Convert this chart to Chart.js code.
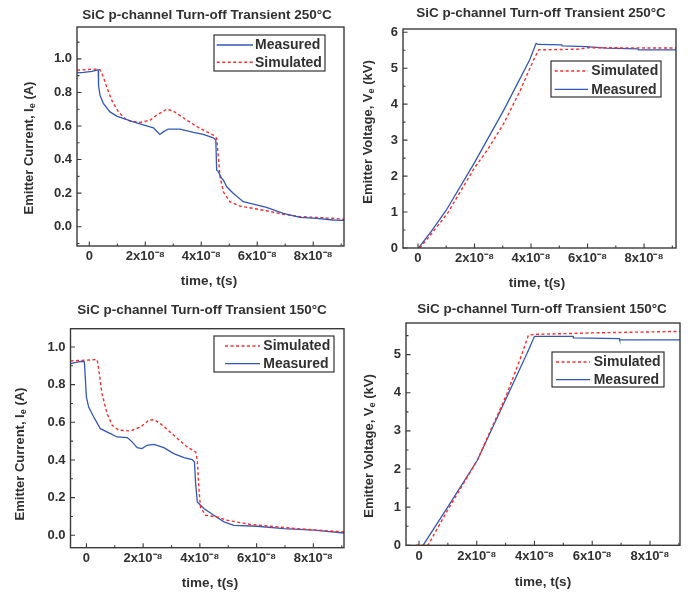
<!DOCTYPE html>
<html><head><meta charset="utf-8">
<script src="https://cdn.jsdelivr.net/npm/chart.js@4.4.1/dist/chart.umd.min.js"></script>
<style>
html,body{margin:0;padding:0;background:#fff;width:696px;height:594px;overflow:hidden}
.p{position:absolute;width:348px;height:297px}
</style></head><body>
<div class="p" style="left:0;top:0"><canvas id="c1"></canvas></div>
<div class="p" style="left:348px;top:0"><canvas id="c2"></canvas></div>
<div class="p" style="left:0;top:297px"><canvas id="c3"></canvas></div>
<div class="p" style="left:348px;top:297px"><canvas id="c4"></canvas></div>
<script>
// ---------- text ----------
const title250 = 'SiC p-channel Turn-off Transient 250°C';
const title150 = 'SiC p-channel Turn-off Transient 150°C';
const xAxisTitle = 'time, t(s)';
const yTitleCurrent = ['Emitter Current, I', 'e', ' (A)'];
const yTitleVoltage = ['Emitter Voltage, V', 'e', ' (kV)'];
const labelMeasured = 'Measured';
const labelSimulated = 'Simulated';

// ---------- ticks ----------
const xTicks = [0, 1e-8, 2e-8, 3e-8, 4e-8, 5e-8, 6e-8, 7e-8, 8e-8, 9e-8];
const xTickLabels = ['0', '', '2x10⁻⁸', '', '4x10⁻⁸', '', '6x10⁻⁸', '', '8x10⁻⁸', ''];
const curTicks250 = [-0.1, 0, 0.1, 0.2, 0.3, 0.4, 0.5, 0.6, 0.7, 0.8, 0.9, 1.0, 1.1];
const curLabels250 = ['', '0.0', '', '0.2', '', '0.4', '', '0.6', '', '0.8', '', '1.0', ''];
const curTicks150 = [0, 0.1, 0.2, 0.3, 0.4, 0.5, 0.6, 0.7, 0.8, 0.9, 1.0];
const curLabels150 = ['0.0', '', '0.2', '', '0.4', '', '0.6', '', '0.8', '', '1.0'];
const voltTicks250 = [0, 0.5, 1, 1.5, 2, 2.5, 3, 3.5, 4, 4.5, 5, 5.5, 6];
const voltLabels250 = ['0', '', '1', '', '2', '', '3', '', '4', '', '5', '', '6'];
const voltTicks150 = [0, 0.5, 1, 1.5, 2, 2.5, 3, 3.5, 4, 4.5, 5, 5.5];
const voltLabels150 = ['0', '', '1', '', '2', '', '3', '', '4', '', '5', ''];

// ---------- data (time in s) ----------
// 250°C current
const t250_I_meas = [-0.44e-8,-0.2e-8,0.1e-8,0.3e-8,0.32e-8,0.33e-8,0.38e-8,0.5e-8,0.74e-8,0.98e-8,1.57e-8,2.05e-8,2.29e-8,2.4e-8,2.52e-8,2.64e-8,2.82e-8,3.24e-8,3.72e-8,4.07e-8,4.43e-8,4.52e-8,4.55e-8,4.6e-8,4.67e-8,4.72e-8,4.79e-8,4.91e-8,5.14e-8,5.5e-8,5.86e-8,6.33e-8,6.93e-8,7.53e-8,8.12e-8,8.71e-8,9.1e-8];
const I250_meas = [0.917,0.92,0.925,0.935,0.935,0.843,0.784,0.735,0.684,0.659,0.625,0.601,0.589,0.57,0.55,0.565,0.582,0.582,0.562,0.55,0.53,0.516,0.338,0.33,0.308,0.29,0.278,0.238,0.199,0.149,0.135,0.115,0.08,0.056,0.05,0.04,0.038];
const t250_I_sim = [-0.44e-8,0.26e-8,0.38e-8,0.5e-8,0.62e-8,0.8e-8,1.04e-8,1.33e-8,1.81e-8,2.17e-8,2.41e-8,2.76e-8,3.0e-8,3.48e-8,3.95e-8,4.43e-8,4.55e-8,4.61e-8,4.67e-8,4.79e-8,5.02e-8,5.38e-8,6.33e-8,6.93e-8,7.53e-8,8.71e-8,9.1e-8];
const I250_sim = [0.933,0.939,0.935,0.893,0.833,0.754,0.684,0.635,0.621,0.635,0.665,0.70,0.689,0.635,0.586,0.546,0.526,0.417,0.298,0.208,0.149,0.123,0.095,0.074,0.06,0.05,0.044];
// 250°C voltage (kV)
const t250_V_meas = [0.02e-8,0.47e-8,1.0e-8,1.99e-8,3.04e-8,3.95e-8,4.18e-8,4.25e-8,5.09e-8,5.1e-8,5.96e-8,6.67e-8,7.78e-8,7.8e-8,9.13e-8];
const V250_meas = [0,0.46,1.05,2.36,3.84,5.23,5.69,5.66,5.65,5.62,5.6,5.56,5.54,5.51,5.51];
const t250_V_sim = [0.06e-8,0.5e-8,1.05e-8,1.99e-8,2.46e-8,3.04e-8,3.63e-8,4.09e-8,4.27e-8,5.73e-8,5.96e-8,9.13e-8];
const V250_sim = [0,0.42,0.97,2.22,2.73,3.47,4.4,5.23,5.51,5.53,5.57,5.56];
// 150°C current
const t150_I_meas = [-0.56e-8,-0.33e-8,-0.15e-8,-0.07e-8,-0.04e-8,0,0.08e-8,0.26e-8,0.49e-8,0.85e-8,1.08e-8,1.44e-8,1.61e-8,1.79e-8,1.96e-8,2.14e-8,2.38e-8,2.73e-8,3.08e-8,3.44e-8,3.73e-8,3.81e-8,3.85e-8,3.91e-8,4.14e-8,4.49e-8,4.85e-8,5.2e-8,6.02e-8,6.96e-8,8.02e-8,9.08e-8];
const I150_meas = [0.912,0.92,0.924,0.92,0.84,0.735,0.681,0.628,0.566,0.54,0.522,0.519,0.496,0.465,0.46,0.478,0.483,0.465,0.434,0.412,0.402,0.389,0.274,0.177,0.142,0.106,0.071,0.053,0.048,0.035,0.027,0.012];
const t150_I_sim = [-0.56e-8,0.38e-8,0.44e-8,0.55e-8,0.73e-8,0.91e-8,1.14e-8,1.55e-8,1.91e-8,2.2e-8,2.38e-8,2.61e-8,3.08e-8,3.55e-8,3.85e-8,3.91e-8,3.96e-8,4.02e-8,4.2e-8,4.61e-8,4.96e-8,5.79e-8,6.96e-8,8.14e-8,9.08e-8];
const I150_sim = [0.926,0.933,0.876,0.752,0.646,0.584,0.558,0.554,0.575,0.611,0.614,0.593,0.531,0.469,0.442,0.398,0.257,0.15,0.106,0.097,0.08,0.057,0.041,0.027,0.018];
// 150°C voltage (kV)
const t150_V_meas = [0.14e-8,1.0e-8,2.02e-8,3.05e-8,3.74e-8,4.0e-8,5.34e-8,5.35e-8,6.94e-8,6.95e-8,9.04e-8];
const V150_meas = [0,1.01,2.23,3.9,5.03,5.48,5.48,5.44,5.42,5.39,5.39];
const t150_V_sim = [-0.1e-8,0.31e-8,0.99e-8,2.02e-8,3.05e-8,3.51e-8,3.79e-8,3.97e-8,6.0e-8,9.04e-8];
const V150_sim = [0,0,0.92,2.23,3.98,4.9,5.51,5.53,5.57,5.61];

// ---------- styling ----------
const BLUE = '#3158b8';
const RED = '#ff2b2b';
const TXT = '#303030';
const FONT = '"Liberation Sans", Arial, Helvetica, sans-serif';

function pts(xs, ys) { return xs.map((x, i) => ({ x: x, y: ys[i] })); }
function meas(xs, ys) { return { label: labelMeasured, data: pts(xs, ys), borderColor: BLUE, borderWidth: 1.3, pointRadius: 0, tension: 0, fill: false, kind: 'm' }; }
function sim(xs, ys) { return { label: labelSimulated, data: pts(xs, ys), borderColor: RED, borderWidth: 1.4, borderDash: [3, 2.5], pointRadius: 0, tension: 0, fill: false, kind: 's' }; }

const panels = {
  c1: { title: title250, yTitle: yTitleCurrent, xr: [-0.44e-8, 9.1e-8], yr: [-0.115, 1.19], yTicks: curTicks250, yLabels: curLabels250,
        pad: { left: 0, top: 27, right: 4, bottom: 0 }, yW: 77, xH: 51,
        tPos: [207, 15], xtPos: [209, 281], ytPos: [29, 148],
        legend: { box: [214, 35, 325, 71], rows: [45, 62.3], line: [216.7, 253], text: 255 },
        ds: [meas(t250_I_meas, I250_meas), sim(t250_I_sim, I250_sim)] },
  c2: { title: title250, yTitle: yTitleVoltage, xr: [-0.53e-8, 9.13e-8], yr: [0, 6.09], yTicks: voltTicks250, yLabels: voltLabels250,
        pad: { left: 0, top: 29, right: 20, bottom: 0 }, yW: 55, xH: 49,
        tPos: [193, 13], xtPos: [189, 283], ytPos: [20, 132],
        legend: { box: [203, 61, 313, 97], rows: [71, 89.3], line: [206.7, 240], text: 243.3 },
        ds: [sim(t250_V_sim, V250_sim), meas(t250_V_meas, V250_meas)] },
  c3: { title: title150, yTitle: yTitleCurrent, xr: [-0.56e-8, 9.08e-8], yr: [-0.066, 1.097], yTicks: curTicks150, yLabels: curLabels150,
        pad: { left: 0, top: 31.7, right: 4, bottom: 0 }, yW: 70.5, xH: 46.3,
        tPos: [202, 13], xtPos: [210, 286], ytPos: [20, 157],
        legend: { box: [214, 39, 334, 75], rows: [49, 66.7], line: [225, 260], text: 263.3 },
        ds: [sim(t150_I_sim, I150_sim), meas(t150_I_meas, I150_meas)] },
  c4: { title: title150, yTitle: yTitleVoltage, xr: [-0.45e-8, 9.04e-8], yr: [0, 5.83], yTicks: voltTicks150, yLabels: voltLabels150,
        pad: { left: 0, top: 26, right: 16, bottom: 0 }, yW: 58, xH: 48.7,
        tPos: [194, 12], xtPos: [195, 285], ytPos: [21, 149],
        legend: { box: [204, 55, 316, 90], rows: [65, 82.7], line: [208, 242], text: 245.7 },
        ds: [sim(t150_V_sim, V150_sim), meas(t150_V_meas, V150_meas)] }
};

function richWidth(ctx, parts, size) {
  let w = 0;
  parts.forEach((p, i) => { ctx.font = 'bold ' + (i === 1 ? size * 0.7 : size) + 'px ' + FONT; w += ctx.measureText(p).width; });
  return w;
}
function drawRich(ctx, parts, size) {
  const w = richWidth(ctx, parts, size);
  let x = -w / 2;
  parts.forEach((p, i) => {
    const s = i === 1 ? size * 0.7 : size;
    ctx.font = 'bold ' + s + 'px ' + FONT;
    ctx.fillText(p, x, i === 1 ? size * 0.25 : 0);
    x += ctx.measureText(p).width;
  });
}

const decor = {
  id: 'decor',
  afterDraw(chart) {
    const P = panels[chart.canvas.id];
    const ctx = chart.ctx, a = chart.chartArea;
    const xs = chart.scales.x, ys = chart.scales.y;
    ctx.save();
    // frame
    ctx.strokeStyle = '#3a3a3a'; ctx.lineWidth = 1.4;
    ctx.strokeRect(a.left, a.top, a.right - a.left, a.bottom - a.top);
    // inward ticks
    ctx.lineWidth = 1.1; ctx.beginPath();
    xs.ticks.forEach(t => {
      const p = xs.getPixelForValue(t.value);
      const L = t.label ? 4.5 : 2.5;
      ctx.moveTo(p, a.bottom); ctx.lineTo(p, a.bottom - L);
    });
    ys.ticks.forEach(t => {
      const p = ys.getPixelForValue(t.value);
      const L = t.label ? 4.5 : 2.5;
      ctx.moveTo(a.left, p); ctx.lineTo(a.left + L, p);
    });
    ctx.stroke();
    // titles
    ctx.fillStyle = TXT; ctx.textBaseline = 'middle'; ctx.textAlign = 'left';
    ctx.font = 'bold 13.5px ' + FONT;
    let w = ctx.measureText(P.title).width;
    ctx.fillText(P.title, P.tPos[0] - w / 2, P.tPos[1]);
    ctx.font = 'bold 13.5px ' + FONT;
    w = ctx.measureText(xAxisTitle).width;
    ctx.fillText(xAxisTitle, P.xtPos[0] - w / 2, P.xtPos[1]);
    ctx.save();
    ctx.translate(P.ytPos[0], P.ytPos[1]); ctx.rotate(-Math.PI / 2);
    drawRich(ctx, P.yTitle, 13);
    ctx.restore();
    // legend
    const L = P.legend;
    ctx.strokeStyle = '#202020'; ctx.lineWidth = 1.1;
    ctx.strokeRect(L.box[0], L.box[1], L.box[2] - L.box[0], L.box[3] - L.box[1]);
    chart.data.datasets.forEach((d, i) => {
      const y = L.rows[i];
      ctx.strokeStyle = d.borderColor; ctx.lineWidth = d.borderWidth;
      ctx.setLineDash(d.borderDash || []);
      ctx.beginPath(); ctx.moveTo(L.line[0], y); ctx.lineTo(L.line[1], y); ctx.stroke();
      ctx.setLineDash([]);
      ctx.fillStyle = TXT; ctx.font = 'bold 14px ' + FONT;
      ctx.fillText(d.label, L.text, y + 0.5);
    });
    ctx.restore();
  }
};

Object.keys(panels).forEach(id => {
  const P = panels[id];
  new Chart(document.getElementById(id), {
    type: 'line',
    data: { datasets: P.ds },
    plugins: [decor],
    options: {
      responsive: true, maintainAspectRatio: false, animation: false,
      layout: { padding: P.pad },
      plugins: { legend: { display: false }, tooltip: { enabled: false }, title: { display: false } },
      scales: {
        x: {
          type: 'linear', min: P.xr[0], max: P.xr[1],
          afterBuildTicks: s => { s.ticks = xTicks.map(v => ({ value: v })); },
          afterFit: s => { s.height = P.xH; },
          ticks: { autoSkip: false, maxRotation: 0, padding: 3, color: TXT,
                   font: { family: FONT, size: 13, weight: 'bold' },
                   callback: (v, i) => xTickLabels[i] },
          grid: { display: true, drawOnChartArea: false, drawTicks: false },
          border: { display: false }
        },
        y: {
          type: 'linear', min: P.yr[0], max: P.yr[1],
          afterBuildTicks: s => { s.ticks = P.yTicks.map(v => ({ value: v })); },
          afterFit: s => { s.width = P.yW; },
          ticks: { autoSkip: false, padding: 5, color: TXT,
                   font: { family: FONT, size: 13, weight: 'bold' },
                   callback: (v, i) => P.yLabels[i] },
          grid: { display: true, drawOnChartArea: false, drawTicks: false },
          border: { display: false }
        }
      }
    }
  });
});
</script>
</body></html>
